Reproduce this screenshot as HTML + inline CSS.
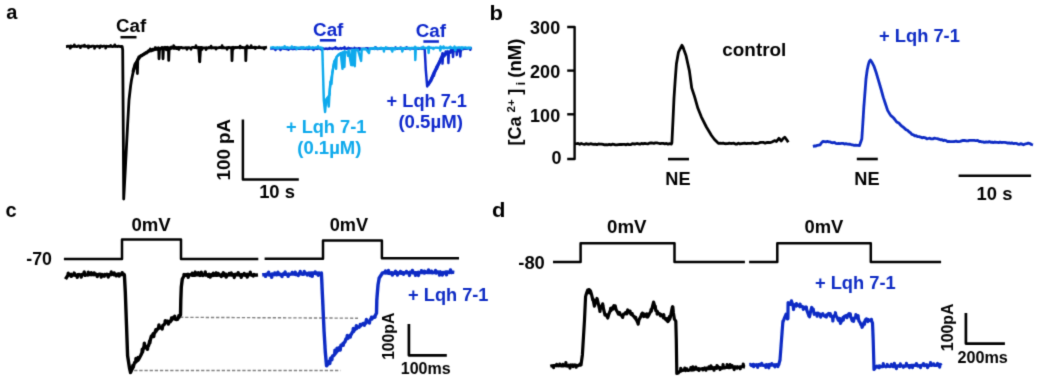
<!DOCTYPE html>
<html><head><meta charset="utf-8"><style>
html,body{margin:0;padding:0;background:#fff;}
body{width:1038px;height:382px;overflow:hidden;font-family:"Liberation Sans",sans-serif;}
svg{display:block;}
svg text{font-family:"Liberation Sans",sans-serif;font-weight:bold;}
</style></head><body>
<svg width="1038" height="382" viewBox="0 0 1038 382">
<defs><filter id="bl" x="0" y="0" width="100%" height="100%" filterUnits="userSpaceOnUse"><feConvolveMatrix order="3" kernelMatrix="0.0192 0.1001 0.0192 0.1001 0.5228 0.1001 0.0192 0.1001 0.0192" edgeMode="none"/></filter></defs>
<rect width="100%" height="100%" fill="#fff"/>
<g filter="url(#bl)">
<text x="6.21" y="19.4" font-size="20" fill="#000" >a</text>
<path d="M66 46.54 L67.01 46.48 L68.02 46.13 L69.03 46.3 L70.04 46.26 L70.29 48.2 L70.54 46.3 L71.05 45.97 L72.07 46.54 L73.08 46.25 L74.09 46.48 L74.34 44.88 L74.59 46.3 L75.1 46.11 L76.11 46.61 L77.12 46.58 L78.13 45.97 L79.14 45.97 L80.15 46.33 L80.4 47.63 L80.65 46.3 L81.16 46.25 L82.17 45.97 L83.19 46.11 L84.2 46.26 L84.45 45.17 L84.7 46.3 L85.21 46.1 L86.22 46.27 L87.23 46.15 L88.24 45.97 L88.49 47.88 L88.74 46.3 L89.25 46.08 L90.26 46.64 L91.27 46.55 L92.28 46.03 L93.29 46.18 L94.31 46.46 L94.56 48.41 L94.81 46.3 L95.32 46.53 L96.33 46.42 L97.34 46.16 L98.35 46.36 L99.36 46.57 L99.61 47.81 L99.86 46.3 L100.37 45.97 L101.38 46.12 L102.39 46.51 L103.4 46.24 L104.41 46.07 L105.43 46.33 L105.68 48.04 L105.93 46.3 L106.44 46.26 L107.45 46.31 L108.46 46.49 L109.47 46.31 L110.48 46.23 L110.73 45.46 L110.98 46.3 L111.49 46.44 L112.5 46.64 L113.51 46.37 L114.52 46.23 L114.77 44.8 L115.02 46.3 L115.53 46.49 L116.55 46.33 L117.56 46.55 L118.57 46.11 L119.58 46.31 L120.59 46.62 L121.6 46.35 L122.2 46.6 L122.7 50 L123.2 120 L123.7 199 L125 175 L126.2 152 L127.6 125 L129 100 L130.6 86 L131.5 80 L133.4 71 L134.2 68.5 L135.2 64.6 L136.5 62 L137.1 67 L137.4 73.5 L137.8 60 L138.8 56.8 L140 56.5 L142 55.2 L145.1 53.1 L145.1 53.13 L146.33 52.41 L147.57 51.97 L148.8 51.39 L150.03 50.53 L150.28 48.86 L150.53 50.83 L151.27 50.18 L152.5 50.25 L153.7 49.55 L154.9 49.47 L155.15 47.54 L155.4 49.23 L156.1 48.99 L157.26 49.02 L158.42 48.64 L158.7 48.65 L159 58.8 L159.5 48.65 L159.58 48.65 L159.83 49.37 L160.08 48.48 L160.74 48.4 L161.9 48.06 L162.7 47.83 L163 58.8 L163.5 47.83 L162.95 47.83 L164 48.38 L165.05 48.07 L166.1 48.2 L166.35 49.85 L166.6 48.05 L167.15 47.94 L168.2 48.19 L168.4 47.9 L168.7 60.4 L169.2 47.9 L169.25 47.9 L170.3 48.2 L171.34 48.15 L172.39 47.6 L173.43 47.61 L173.68 45.71 L173.93 47.87 L174.48 47.94 L175.52 47.71 L176.57 47.84 L177.61 47.74 L178.66 47.71 L178.91 49.43 L179.16 47.81 L179.7 47.93 L179.7 48.11 L180.7 47.49 L181.71 47.5 L182.71 48.02 L183.71 47.95 L184.72 47.9 L185.72 47.65 L186.72 47.85 L186.97 49.39 L187.22 47.78 L187.73 47.72 L188.73 47.69 L189.73 47.92 L190.74 48.11 L190.99 49.32 L191.24 47.76 L191.74 47.6 L192.74 47.43 L193.75 47.42 L194.75 47.72 L195.76 47.62 L196.01 45.7 L196.26 47.74 L196.76 47.78 L197.76 47.55 L198.77 47.4 L199.5 47.61 L199.8 61.8 L200.3 47.61 L199.77 47.61 L200.77 47.47 L201.78 47.73 L202.03 49.47 L202.28 47.72 L202.78 48 L203.78 47.92 L204.79 47.88 L205.79 47.99 L206.04 49.62 L206.29 47.71 L206.79 48.04 L207.8 48.03 L208.8 47.46 L209.8 47.87 L210.81 47.84 L211.06 46.15 L211.31 47.69 L211.81 47.99 L212.81 47.69 L213.82 47.91 L214.82 47.58 L215.82 47.94 L216.07 49.12 L216.32 47.68 L216.83 47.97 L217.83 47.83 L218.83 47.66 L219.84 47.47 L220.84 47.54 L221.84 47.79 L222.09 45.58 L222.34 47.66 L222.85 47.94 L223.85 47.51 L224.86 47.96 L225.86 47.79 L226.86 47.64 L227.11 49.35 L227.36 47.64 L227.87 47.5 L228.87 47.43 L229.87 47.64 L230.88 47.93 L231.7 47.71 L232 60.6 L232.5 47.71 L231.88 47.71 L232.88 47.32 L233.13 49.43 L233.38 47.62 L233.89 47.4 L234.89 47.78 L235.89 47.3 L236.9 47.71 L237.9 47.44 L238.9 47.41 L239.91 47.86 L240.16 46.06 L240.41 47.59 L240.91 47.41 L241.91 47.38 L242.92 47.85 L243.92 47.53 L244.92 47.73 L245.5 47.24 L245.8 60.6 L246.3 47.24 L245.93 47.24 L246.93 47.47 L247.18 45.83 L247.43 47.57 L247.93 47.88 L248.94 47.23 L249.94 47.72 L250.94 47.22 L251.19 45.62 L251.44 47.56 L251.95 47.33 L252.95 47.68 L253.96 47.46 L254.96 47.22 L255.21 48.55 L255.46 47.54 L255.96 47.43 L256.97 47.62 L257.97 47.7 L258.97 47.26 L259.22 46.68 L259.47 47.53 L259.98 47.71 L260.98 47.69 L261.98 47.8 L262.99 47.69 L263.99 47.76 L264.24 48.97 L264.49 47.51 L264.99 47.62 L266 47.37 L267 47.22" fill="none" stroke="#000" stroke-width="2.8" stroke-linejoin="round" stroke-linecap="butt" />
<path d="M133 71.94 L134.1 67.87 L135.2 64.07 L136.5 62.71 L137.8 59.62 L138.9 58.3 L140 56.58 L141 55.66 L142 55.57 L143.03 54.62 L144.07 54.25 L145.1 53.36 L146.33 53.04 L147.57 51.8 L148.8 50.75 L150.03 50.27 L151.27 50.72 L152.5 49.37 L153.7 49.81 L154.9 49.43 L156.1 48.2 L157.26 49.21 L158.42 47.87 L159.58 49.07 L160.74 48.89 L161.9 47.75 L162.95 48.52 L164 48.5 L165.05 47.49 L166.1 48.32 L167.15 47.41 L168.2 48.64 L169.25 48.24 L170.3 48.67 L171.34 47.17 L172.39 47.59 L173.43 48.06 L174.48 48.03 L175.52 47.34 L176.57 48.45 L177.61 48.38 L178.66 47.49 L179.7 47.63" fill="none" stroke="#000" stroke-width="3.2" stroke-linejoin="round" stroke-linecap="butt" />
<path d="M198 48 L199 61.5 L200 61.8 L201 48" fill="none" stroke="#000" stroke-width="1.5" stroke-linejoin="round" stroke-linecap="butt" />
<line x1="120.5" y1="37.2" x2="136.5" y2="37.2" stroke="#000" stroke-width="2.5" />
<text x="116.08" y="32.4" font-size="18.7" fill="#000" >Caf</text>
<path d="M270.2 48.42 L271.2 48.63 L272.2 48.46 L273.2 48.39 L274.21 48.63 L275.21 48.99 L275.46 49.96 L275.71 48.69 L276.21 48.72 L277.21 48.53 L278.21 48.46 L279.21 48.41 L280.21 48.49 L280.46 50.02 L280.71 48.69 L281.21 48.9 L282.22 48.47 L283.22 48.55 L284.22 48.77 L285.22 48.84 L286.22 48.93 L287.22 48.94 L288.22 48.39 L288.47 49.85 L288.72 48.68 L289.22 48.45 L290.23 48.66 L291.23 48.39 L292.23 48.98 L293.23 48.93 L294.23 48.7 L294.48 47.26 L294.73 48.67 L295.23 48.94 L296.23 48.91 L297.24 48.67 L298.24 48.6 L299.24 48.73 L300.24 48.61 L300.49 47.86 L300.74 48.66 L301.24 48.34 L302.24 48.34 L303.24 48.75 L304.24 48.5 L305.25 48.68 L306.25 48.63 L307.25 48.54 L308.25 49 L308.5 47.74 L308.75 48.65 L309.25 48.74 L310.25 48.49 L311.25 48.55 L312.25 48.82 L313.26 48.52 L313.51 50.05 L313.76 48.64 L314.26 48.34 L315.26 48.45 L316.26 48.83 L317.26 48.72 L317.51 47.81 L317.76 48.64 L318.26 48.61 L319.26 48.32 L320.26 48.77 L321.27 48.91 L321.52 49.87 L321.77 48.63 L322.27 48.3 L323.27 48.48 L324.27 48.96 L325.27 48.82 L326.27 48.56 L327.27 48.94 L328.28 48.71 L329.28 48.85 L329.53 47.93 L329.78 48.62 L330.28 48.37 L331.28 48.54 L332.28 48.94 L333.28 48.5 L334.28 48.27 L335.28 48.3 L335.53 47.33 L335.78 48.62 L336.29 48.47 L337.29 48.33 L338.29 48.95 L339.29 48.56 L340.29 48.4 L340.54 48.05 L340.79 48.61 L341.29 48.73 L342.29 48.36 L343.29 48.28 L344.3 48.6 L344.55 47.11 L344.8 48.6 L345.3 48.62 L346.3 48.79 L347.3 48.54 L348.3 48.94 L348.55 47.86 L348.8 48.6 L349.3 48.27 L350.3 48.54 L351.31 48.42 L352.31 48.87 L353.31 48.82 L354.31 48.59 L354.56 47.84 L354.81 48.59 L355.31 48.39 L356.31 48.4 L357.31 48.85 L358.31 48.33 L359.32 48.27 L359.57 49.65 L359.82 48.58 L360.32 48.52 L361.32 48.86 L362.32 48.69 L363.32 48.78 L364.32 48.75 L365.32 48.57 L366.32 48.29 L367.33 48.37 L367.58 49.97 L367.83 48.57 L368.33 48.46 L369.33 48.68 L370.33 48.78 L371.33 48.67 L372.33 48.79 L373.33 48.59 L374.34 48.67 L375.34 48.69 L375.59 47.14 L375.84 48.56 L376.34 48.26 L377.34 48.89 L378.34 48.88 L379.34 48.68 L380.34 48.24 L381.34 48.84 L382.35 48.29 L383.35 48.88 L383.6 49.11 L383.85 48.55 L384.35 48.65 L385.35 48.6 L386.35 48.72 L387.35 48.85 L387.6 48.04 L387.85 48.55 L388.35 48.21 L389.35 48.81 L390.36 48.28 L391.36 48.76 L392.36 48.74 L393.36 48.8 L394.36 48.57 L395.36 48.8 L395.61 47.37 L395.86 48.54 L396.36 48.81 L397.36 48.73 L398.37 48.51 L399.37 48.55 L400.37 48.2 L400.62 47.44 L400.87 48.53 L401.37 48.79 L402.37 48.6 L403.37 48.27 L404.37 48.43 L405.38 48.71 L406.38 48.54 L406.63 47.19 L406.88 48.52 L407.38 48.23 L408.38 48.55 L409.38 48.44 L410.38 48.72 L411.38 48.38 L412.38 48.33 L413.39 48.5 L414.39 48.84 L414.64 47.9 L414.89 48.51 L415.39 48.78 L416.39 48.52 L417.39 48.46 L418.39 48.76 L419.39 48.7 L420.39 48.2 L421.4 48.77 L421.65 47.7 L421.9 48.5 L422.4 48.45 L423.4 48.71 L424.4 48.27 L424.7 49 L425.8 70 L427.2 86.5 L428.5 84 L428.5 83.46 L429.8 81.5 L431.1 79.56 L431.35 78.34 L431.6 79.3 L432.4 77.06 L433.7 73.61 L433.95 75.83 L434.2 74.1 L435 71.55 L436.35 68.78 L436.6 66.66 L436.85 68.85 L437.7 65.53 L439 63.57 L439.25 61.87 L439.5 62.95 L440.3 59.51 L442.2 55.04 L442.5 63.6 L443 55.04 L442.2 55.04 L442.45 53.3 L442.7 54.4 L443.3 53.83 L444.4 53.77 L445.5 52.97 L445.75 51.41 L446 52.5 L446.56 52.9 L447.62 51.28 L448.1 51.99 L448.4 62.9 L448.9 51.99 L448.68 51.99 L448.93 53.37 L449.18 51.66 L449.74 51.8 L450.8 51.42 L451.05 49.4 L451.3 51.1 L451.88 50.24 L452.7 50.44 L453 57 L453.5 50.44 L452.97 50.44 L453.22 49.31 L453.47 50.67 L454.05 50.92 L455.13 50.88 L456.22 50.68 L456.47 51.92 L456.5 50.02 L456.8 55 L457.3 50.02 L456.72 50.02 L457.3 49.35 L458.44 49.73 L458.69 51.3 L458.94 49.56 L459.58 48.89 L460 49.67 L460.3 56.4 L460.8 49.67 L460.72 49.67 L460.97 50.85 L461.22 49.08 L461.86 48.7 L463 49.17 L463 48.77 L464 48.77 L465 48.84 L466 48.67 L467 48.76 L468 48.1 L469 48.38 L470 48.68 L470.25 49.77 L470.5 48.37 L471 48.31 L472 48.12" fill="none" stroke="#0b28cc" stroke-width="2.5" stroke-linejoin="round" stroke-linecap="butt" />
<path d="M427.8 85 L430.8 80.6 L434.3 72.4 L437.9 65.3 L441.4 58.3 L446.1 53.6 L453.2 51.2" fill="none" stroke="#0b28cc" stroke-width="3.4" stroke-linejoin="round" stroke-linecap="butt" />
<path d="M270.2 47.83 L271.21 47.59 L272.23 47.43 L273.24 47.25 L274.25 47.71 L275.27 47.58 L276.28 47.78 L277.3 47.51 L277.55 48.37 L277.8 47.6 L278.31 47.76 L279.32 47.54 L280.34 47.63 L281.35 47.73 L282.36 47.39 L283.38 47.64 L284.39 47.81 L284.64 46.3 L284.89 47.6 L285.41 47.84 L286.42 47.48 L287.43 47.32 L288.45 47.81 L289.46 47.81 L290.47 47.56 L291.49 47.32 L291.74 46.47 L291.99 47.6 L292.5 47.92 L293.52 47.66 L294.53 47.39 L295.54 47.71 L296.56 47.5 L296.81 49.01 L297.06 47.6 L297.57 47.7 L298.58 47.74 L299.6 47.81 L300.61 47.93 L301.63 47.27 L302.64 47.5 L302.89 48.4 L303.14 47.6 L303.65 47.31 L304.67 47.87 L305.68 47.62 L306.69 47.33 L307.71 47.71 L308.72 47.47 L308.97 46.62 L309.22 47.6 L309.74 47.4 L310.75 47.86 L311.76 47.74 L312.78 47.26 L313.03 48.12 L313.28 47.6 L313.79 47.88 L314.8 47.68 L315.82 47.46 L316.83 47.51 L317.85 47.52 L318.1 46.1 L318.35 47.6 L318.86 47.55 L319.87 47.77 L320.89 47.53 L321.9 47.94 L322.3 48 L323.8 100 L325.1 112 L326 100 L327.5 98.2 L328.8 106.5 L329.7 89 L330.6 81.7 L331.5 84 L332.4 72.5 L333.3 67 L334.3 61.5 L335.2 60 L336.1 68.9 L336.6 57 L338 55.1 L340.7 53.3 L342.5 68.9 L343.2 53 L344.4 67 L345 51.5 L347.5 52.5 L348 55.7 L348.6 50.5 L351.2 65.1 L351.8 50 L352.6 65.2 L353.2 50 L354.8 66.2 L355.4 49.6 L358 50 L361.1 60.9 L361.7 49.2 L366 49 L369 53.1 L369.6 48.6 L369.6 48.92 L370.61 48.33 L371.62 48.72 L372.63 48.28 L373.64 48.38 L374.64 48.9 L374.89 47.41 L375.14 48.55 L375.65 48.51 L376.66 48.53 L377.67 48.31 L378.68 48.74 L379.69 48.21 L380.7 48.31 L380.95 47.72 L381.2 48.49 L381.71 48.76 L382.72 48.39 L383.6 48.19 L383.9 51.5 L384.4 48.19 L383.72 48.19 L384.73 48.28 L385.74 48.79 L385.99 47.32 L386.24 48.44 L386.75 48.54 L387.76 48.31 L388.77 48.55 L389.78 48.4 L390.79 48.5 L391.04 49.47 L391.29 48.39 L391.8 48.08 L392 48.68 L392.3 51.5 L392.8 48.68 L392.8 48.68 L393.81 48.35 L394.82 48.14 L395.07 49.43 L395.32 48.35 L395.83 48.61 L396.84 48.18 L397.85 48.22 L398.86 48.58 L399.87 48.05 L400.88 48.48 L401.89 48 L402 49.49 L402.3 51.5 L402.8 49.49 L402.14 49.49 L402.39 48.28 L402.89 48.51 L403.9 48.27 L404.91 48.04 L405.92 48 L406.93 48.25 L407.94 48.23 L408.95 47.91 L409.96 48.49 L410.21 49.41 L410.46 48.2 L410.97 48.01 L411.97 47.84 L412.98 48.06 L413.99 48 L415 48.1 L415.3 60 L415.8 48.1 L415 48.1 L415.25 46.82 L415.5 48.15 L416.01 47.92 L417.02 48.06 L418.03 47.89 L419.04 48.23 L420.05 48.44 L421.05 47.89 L422.06 48.27 L423.07 47.94 L423.32 46.81 L423.57 48.08 L424.08 47.83 L425.09 48.01 L426.1 47.86 L427.11 47.97 L428.12 47.99 L428.3 46.94 L428.6 53 L429.1 46.94 L428.37 46.94 L428.62 48.03 L429.13 47.73 L430.13 47.72 L431.14 47.72 L432.15 48 L433.16 47.88 L433.41 48.98 L433.66 47.98 L434.17 48.3 L435.18 47.65 L436.19 47.61 L437.2 47.68 L438.21 47.85 L439.21 47.97 L440 48.08 L440.3 50.5 L440.8 48.08 L440.22 48.08 L440.47 46.44 L440.72 47.91 L441.23 48.13 L442.24 47.68 L443.25 48.14 L443.5 46.41 L443.75 47.88 L444.26 48.21 L445.27 47.91 L446.28 47.62 L447.29 48.17 L448.3 47.79 L449.3 47.53 L450.31 47.88 L450.56 46.83 L450.81 47.81 L451.32 47.53 L452.33 47.84 L453.34 47.75 L454.35 47.51 L454.6 46.54 L454.85 47.77 L455 47.74 L455.3 50.3 L455.8 47.74 L455.36 47.74 L456.37 47.67 L457.38 47.64 L458.38 47.54 L459.39 47.51 L460.4 47.67 L461.41 47.42 L461.66 48.91 L461.91 47.7 L462.42 47.35 L463.43 47.58 L464.44 47.62 L465.45 47.37 L466.46 47.98 L467.46 47.82 L468.47 47.63 L468.72 48.33 L468.97 47.63 L469.48 47.64 L470.49 47.78 L471.5 47.7" fill="none" stroke="#08a9ec" stroke-width="2.4" stroke-linejoin="round" stroke-linecap="butt" />
<path d="M325.6 106 L326.5 99 L328 97 L329.5 95 L330.6 82 L332.4 72.5 L334.3 61.5 L336.6 57 L340.7 53.3 L345 51.2" fill="none" stroke="#08a9ec" stroke-width="2.2" stroke-linejoin="round" stroke-linecap="butt" />
<line x1="319.9" y1="40.3" x2="336" y2="40.3" stroke="#0b28cc" stroke-width="2.6" />
<text x="313.1" y="35.8" font-size="18.8" fill="#0b28cc" >Caf</text>
<line x1="423.4" y1="41.5" x2="438.9" y2="41.5" stroke="#0b28cc" stroke-width="2.6" />
<text x="415.65" y="36.8" font-size="18.8" fill="#0b28cc" >Caf</text>
<text x="285.97" y="132.8" font-size="18.2" fill="#08a9ec" >+ Lqh 7-1</text>
<text x="297.25" y="153.9" font-size="18.5" fill="#08a9ec" >(0.1µM)</text>
<text x="386.62" y="106.6" font-size="18.2" fill="#0b28cc" >+ Lqh 7-1</text>
<text x="398.42" y="127.8" font-size="18.6" fill="#0b28cc" >(0.5µM)</text>
<path d="M242.9 119.5 L242.9 179.6 L298.8 179.6" fill="none" stroke="#000" stroke-width="2.5" stroke-linejoin="round" stroke-linecap="butt" stroke-linejoin="miter"/>
<text transform="translate(229.5 180.47) rotate(-90)" x="0" y="0" font-size="18.8" fill="#000">100 pA</text>
<text x="259.14" y="197.6" font-size="18.4" fill="#000" >10 s</text>
<text transform="translate(489.45 19.6) scale(1.1 1)" font-size="20" fill="#000" >b</text>
<path d="M567.2 27 L574.6 27 L574.6 159 L567.2 159" fill="none" stroke="#000" stroke-width="2.4" stroke-linejoin="round" stroke-linecap="butt" stroke-linejoin="miter"/>
<line x1="567.2" y1="70.6" x2="574.6" y2="70.6" stroke="#000" stroke-width="2.4" />
<line x1="567.2" y1="114.3" x2="574.6" y2="114.3" stroke="#000" stroke-width="2.4" />
<text x="530.11" y="34.2" font-size="18.0" fill="#000" >300</text>
<text x="530.11" y="77.9" font-size="18.0" fill="#000" >200</text>
<text x="530.11" y="121.6" font-size="18.0" fill="#000" >100</text>
<text x="551.46" y="163.6" font-size="18.0" fill="#000" >0</text>
<text transform="translate(521.4 145.61) rotate(-90)" font-size="18" fill="#000">[Ca</text>
<text transform="translate(514.8 112.5) rotate(-90)" font-size="11.5" fill="#000">2+</text>
<text transform="translate(521.4 94.72) rotate(-90)" font-size="18" fill="#000">]</text>
<text transform="translate(524.8 85.24) rotate(-90)" font-size="12" fill="#000">i</text>
<text transform="translate(521.4 77.72) rotate(-90)" font-size="18.5" fill="#000">(nM)</text>
<path d="M575 143.79 L576.56 143.71 L578.12 143.51 L579.69 144.28 L581.25 143.46 L582.81 143.99 L584.38 144.42 L585.94 143.64 L587.5 144.15 L589.06 144.25 L590.62 143.72 L592.19 144.09 L593.75 144.45 L595.31 144.24 L596.88 144.55 L598.44 144.02 L600 144.14 L601.54 144.04 L603.08 144.47 L604.62 144.92 L606.15 144.61 L607.69 144.83 L609.23 144.47 L610.77 144.86 L612.31 144.25 L613.85 144.47 L615.38 144.88 L616.92 144.96 L618.46 144.69 L620 144.39 L621.54 144.49 L623.08 144.36 L624.62 144.35 L626.15 144.8 L627.69 144.11 L629.23 144.72 L630.77 144.64 L632.31 143.74 L633.85 143.99 L635.38 144.02 L636.92 143.48 L638.46 143.8 L640 144.21 L641.54 143.37 L643.08 143.8 L644.62 143.28 L646.15 143.69 L647.69 143.96 L649.23 143.23 L650.77 142.99 L652.31 143.01 L653.85 143.42 L655.38 142.86 L656.92 142.88 L658.46 143.24 L660 143.62 L661.6 143.28 L663.2 143.42 L664.8 143.82 L666.4 143.43 L668 144.08 L669.7 143.67 L671.4 144.03 L671.9 142.7 L673 120 L674 98 L675.2 80 L676.4 64 L678.5 52.1 L680.2 48.7 L681.9 45.3 L683 47 L684 50 L686 55.5 L689.4 70.9 L691.7 87.9 L694.5 96.4 L697.9 108.3 L701.3 116.8 L706.4 127 L711.5 135.5 L714.5 139.5 L717.6 142.6 L718.6 143.32 L720.13 143.25 L721.66 143.42 L723.19 143.07 L724.71 143.7 L726.24 143.73 L727.77 143.58 L729.3 143.11 L730.83 143.49 L732.36 143.32 L733.89 143.26 L735.41 143.99 L736.94 144.05 L738.47 143.12 L740 143.96 L741.57 143.65 L743.14 143.37 L744.71 143.21 L746.29 143.55 L747.86 143.27 L749.43 143.44 L751 143.36 L752.57 142.78 L754.14 143.35 L755.71 143.51 L757.29 143.44 L758.86 143.03 L760.43 142.4 L762 142.3 L763.6 142.39 L765.2 143.16 L766.8 142.48 L768.4 142.51 L770 142.72 L772 142 L774.5 140.6 L776.5 141.5 L778.9 138.3 L781.3 141 L783.2 138.5 L784.7 137.2 L786.5 139.5 L788.3 142.3" fill="none" stroke="#000" stroke-width="2.8" stroke-linejoin="round" stroke-linecap="butt" />
<text x="722.33" y="55.6" font-size="18.9" fill="#000" >control</text>
<line x1="668" y1="159.1" x2="689" y2="159.1" stroke="#000" stroke-width="2.6" />
<text x="665.36" y="184.7" font-size="18.2" fill="#000" >NE</text>
<path d="M812.9 146.29 L814.45 146 L816 145.98 L817.33 145.34 L818.67 145.14 L820 144.98 L821.5 142.72 L823 141.41 L824.5 141.62 L826 141.86 L827.4 141.43 L828.8 141.82 L830.2 141.83 L831.6 142.68 L833 142.77 L834.4 142.37 L835.8 143.39 L837.2 143.56 L838.6 143.46 L840 143.6 L841.48 143.35 L842.96 143.38 L844.44 144.01 L845.92 143.74 L847.4 144.02 L848.8 144.24 L850.2 144.23 L851.6 144.79 L853 144.95 L854.3 145.41 L855.6 145.22 L856.9 145.43 L858.2 145.4 L859.5 145.54 L861.8 139 L862.8 124 L863.8 107.5 L865 92 L866 78.8 L867.2 70 L868.4 64.4 L869.4 61.3 L870.4 60 L872 62.3 L873.8 65.8 L876 72 L878.4 80.2 L881 89 L883.3 97.4 L885.5 104 L887.6 110.4 L890.3 114.9 L890.3 114.89 L891.85 116.39 L893.4 117.75 L894.85 119.48 L896.3 121.56 L897.65 122.54 L899 123.1 L900.4 124.88 L901.8 126.07 L903.2 127.19 L904.6 128.35 L906 129.65 L907.47 130.35 L908.93 131.78 L910.4 132.7 L911.95 134.47 L913.5 134.8 L914.83 135.89 L916.17 135.62 L917.5 136.57 L919 136.62 L920.5 137.05 L922 137.81 L923.63 137.4 L925.27 137.77 L926.9 138.87 L928.35 138.51 L929.8 138.13 L931.25 138.94 L932.7 138.9 L934.15 138.15 L935.6 138.43 L937.2 138.55 L938.8 139.08 L940.4 139.73 L942 139.7 L943.38 140.5 L944.76 140.24 L946.14 140.66 L947.52 141.56 L948.9 141.51 L950.32 141.53 L951.74 141.69 L953.16 141.58 L954.58 141.5 L956 141.18 L957.4 141.58 L958.8 141.58 L960.2 141.37 L961.6 140.87 L963 140.37 L964.67 140.48 L966.33 140.87 L968 140.96 L969.36 140.33 L970.72 140.32 L972.08 140.32 L973.44 140.33 L974.8 140.48 L976.2 140.53 L977.6 140.44 L979 141.49 L980.33 141.44 L981.65 141.82 L982.97 141.85 L984.3 142.33 L986.15 142 L988 142.04 L989.37 141.64 L990.73 142.24 L992.1 142.11 L993.42 142.59 L994.73 142.02 L996.05 142.25 L997.37 142.33 L998.68 142.61 L1000 142.1 L1001.56 142.5 L1003.12 142.32 L1004.68 142.42 L1006.24 142.64 L1007.8 143.11 L1009.24 142.84 L1010.68 143.43 L1012.12 142.88 L1013.56 143.72 L1015 143.38 L1016.42 143.39 L1017.83 144.06 L1019.25 144.37 L1020.67 143.72 L1022.08 144.12 L1023.5 144.74 L1025.1 144.02 L1026.7 143.6 L1028.3 143.06 L1029.87 143.52 L1031.43 144.47 L1033 144.93" fill="none" stroke="#0a2ac4" stroke-width="2.8" stroke-linejoin="round" stroke-linecap="butt" />
<text x="879.1" y="41.9" font-size="18.3" fill="#0a2ac4" >+ Lqh 7-1</text>
<line x1="856.8" y1="159" x2="877.8" y2="159" stroke="#000" stroke-width="2.6" />
<text x="854.31" y="184.9" font-size="18.2" fill="#000" >NE</text>
<line x1="958.6" y1="175.8" x2="1031.1" y2="175.8" stroke="#000" stroke-width="2.6" />
<text x="976.59" y="199.6" font-size="18.4" fill="#000" >10 s</text>
<text x="5.52" y="217" font-size="20" fill="#000" >c</text>
<text x="26.25" y="265.4" font-size="17.8" fill="#000" >-70</text>
<path d="M63.9 259.1 L122 259.1 L122 239.6 L181 239.6 L181 259.1 L258.3 259.1" fill="none" stroke="#000" stroke-width="2.5" stroke-linejoin="round" stroke-linecap="butt" stroke-linejoin="miter"/>
<path d="M264.6 258.7 L323 258.7 L323 240.6 L381.9 240.6 L381.9 258.3 L459 258.3" fill="none" stroke="#000" stroke-width="2.5" stroke-linejoin="round" stroke-linecap="butt" stroke-linejoin="miter"/>
<text x="131.4" y="231" font-size="18.6" fill="#000" >0mV</text>
<text x="329.73" y="230.5" font-size="18.2" fill="#000" >0mV</text>
<line x1="180" y1="317.3" x2="358" y2="318.2" stroke="#808080" stroke-width="1.4" stroke-dasharray="3.3 1.85"/>
<line x1="129" y1="370.5" x2="340.5" y2="370.5" stroke="#808080" stroke-width="1.4" stroke-dasharray="3.3 1.85"/>
<path d="M65.5 279.22 L66.75 277.12 L68 275.22 L68.25 273.18 L68.5 274.8 L69 274.46 L70 275.07 L71 274.34 L71.25 276.37 L71.5 274.78 L72 274.7 L73 275.18 L74 274.9 L74.25 273.07 L74.5 274.77 L75 275.21 L76 275.13 L77 275.12 L77.25 277.29 L77.5 274.75 L78 275.1 L79 274.45 L80 275.16 L81 274.71 L81.25 276.95 L81.5 274.73 L82 274.56 L83 274.64 L84 274.49 L84.25 272.04 L84.5 274.71 L85 275.29 L86 274.93 L87 274.76 L88 274.99 L88.25 272.27 L88.5 274.69 L89 274.3 L90 274.33 L91 274.7 L91.25 272.65 L91.5 274.68 L92 274.55 L93 274.22 L94 274.65 L94.25 273.04 L94.5 274.66 L95 274.5 L96 274.14 L97 274.83 L97.25 276.55 L97.5 274.64 L98 275.16 L99 274.09 L100 274.2 L101 274.99 L101.25 276.97 L101.5 274.62 L102 274.51 L103 275.05 L104 275.07 L104.25 276.17 L104.5 274.61 L105 274.45 L106 274.86 L107 274.16 L108 275.15 L108.25 277.09 L108.5 274.59 L109 274.72 L110 274.67 L111 274.68 L111.25 272.06 L111.5 274.57 L112 274.32 L113 274.16 L114 274.77 L114.25 272.95 L114.5 274.55 L115 274.72 L116 274.61 L116.25 275.81 L116.5 274.54 L117 274.35 L118 274.04 L119 273.93 L119.25 275.95 L119.5 274.53 L120 274.24 L121 274.63 L122 274 L122.25 272.65 L122.5 274.51 L123 273.91 L124 274.3 L124.4 275 L125.3 292 L126.5 325 L127.6 355.8 L129.5 368 L130.5 372.3 L130.5 372.66 L131.55 370.2 L132.6 368.34 L132.85 365.46 L133.1 367.55 L133.65 365.46 L134.7 362.45 L135.74 362.09 L135.99 358.47 L136.24 361.76 L136.78 360.22 L137.82 360.4 L138.07 357.58 L138.32 359.68 L138.86 358.88 L139.9 356.97 L140.95 355.04 L142 352.6 L142.25 349.3 L142.5 352.3 L143.05 349.36 L144.1 346.25 L144.35 343.25 L144.6 347 L145.15 347.63 L146.2 346.39 L147.25 346.44 L147.5 349.33 L147.75 346.25 L148.3 346.16 L149.33 343.11 L149.58 341.15 L149.83 342.87 L150.37 339.76 L151.4 336.05 L152.45 335.21 L153.5 333.49 L153.75 336.65 L154 334 L154.55 333.27 L155.6 330.66 L155.85 329.84 L156.1 331.4 L156.63 329.57 L157.67 329.18 L158.7 327.27 L158.95 324.92 L159.2 328 L159.77 327.69 L160.83 327.51 L161.9 327.19 L162.15 329.02 L162.4 327.3 L162.93 325.23 L163.97 324.76 L165 323.29 L165.25 320.67 L165.5 322.5 L166.06 322.33 L167.12 321.03 L168.18 321.97 L168.43 324.07 L168.68 321.6 L169.24 321.42 L170.3 321.79 L171.33 319.51 L171.58 318 L171.83 319.93 L172.37 318.81 L173.4 317.36 L174.43 318.33 L174.68 316.31 L174.93 318.53 L175.47 319.42 L176.5 319.61 L177.55 319.44 L178.6 317.04 L178.85 315.72 L179.1 317.3 L180.5 315.16 L180.8 300 L181.3 287 L182.3 279 L184 276 L184 274.41 L185 275.28 L186 274.58 L187 275.57 L188 274.4 L188.25 277.4 L188.5 274.98 L189 275.57 L190 274.65 L191 274.77 L192 275.21 L192.25 273.28 L192.5 274.96 L193 275.38 L194 275.39 L195 275.3 L195.25 272.07 L195.5 274.94 L196 274.61 L197 274.87 L198 274.83 L198.25 272.71 L198.5 274.92 L199 275 L200 275.43 L201 275.08 L201.25 272.15 L201.5 274.91 L202 274.89 L203 275.43 L204 274.31 L205 274.45 L205.25 271.99 L205.5 274.88 L206 275.14 L207 274.62 L208 274.86 L208.25 276.25 L208.5 274.87 L209 274.32 L210 274.82 L210.25 277.05 L210.5 274.86 L211 274.85 L212 274.46 L213 275.38 L213.25 273.22 L213.5 274.84 L214 275.22 L215 274.61 L216 275.31 L216.25 272.83 L216.5 274.82 L217 275.31 L218 275.17 L218.25 273.4 L218.5 274.81 L219 274.66 L220 275.21 L221 275.31 L221.25 276.52 L221.5 274.8 L222 275.27 L223 275.33 L223.25 272.7 L223.5 274.8 L224 275.37 L225 274.25 L226 274.27 L226.25 277.03 L226.5 274.8 L227 275.13 L228 274.91 L229 275.03 L229.25 273.45 L229.5 274.8 L230 274.6 L231 274.98 L231.25 272.97 L231.5 274.8 L232 275.05 L233 274.91 L234 274.57 L234.25 277.44 L234.5 274.8 L235 275.27 L236 274.22 L237 275 L238 274.62 L238.25 272.67 L238.5 274.8 L239 274.5 L240 275.38 L241 274.6 L241.25 277.23 L241.5 274.8 L242 274.58 L243 274.93 L244 275.04 L244.25 273.49 L244.5 274.8 L245 275.23 L246 275.07 L247 274.33 L247.25 277.04 L247.5 274.8 L248 275.27 L249 274.35 L250 274.32 L250.25 272.27 L250.5 274.8 L251 274.78 L252 275.29 L253 274.67 L253.25 276.01 L253.5 274.8 L254 274.39 L255 274.99 L256 275.21 L257 274.99 L258 274.89" fill="none" stroke="#000" stroke-width="3.4" stroke-linejoin="round" stroke-linecap="butt" />
<path d="M262.2 274.78 L263.23 274.68 L264.26 274.69 L265.29 274.62 L265.54 276.4 L265.79 274.73 L266.32 274.12 L267.35 274.45 L268.38 274.47 L268.63 272.13 L268.88 274.67 L269.41 274.99 L270.44 275.17 L271.47 274.3 L271.72 277.25 L271.97 274.6 L272.5 274.01 L273.53 274.5 L274.56 274.69 L274.81 272.93 L275.06 274.53 L275.59 274.22 L276.61 274.83 L277.64 274.28 L277.89 272.11 L278.14 274.47 L278.67 274.2 L279.7 273.88 L280.73 274.97 L281.76 274.78 L282.01 276.52 L282.26 274.38 L282.79 273.94 L283.82 274.1 L284.85 274.26 L285.1 271.85 L285.35 274.31 L285.88 273.7 L286.91 274.68 L287.94 274.23 L288.19 276.3 L288.44 274.24 L288.97 274.17 L290 274.34 L291 274.17 L292 273.56 L292.25 272.52 L292.5 274.14 L293 273.95 L294 274.12 L295 274.23 L295.25 272.26 L295.5 274.04 L296 274.55 L297 274.31 L298 274.13 L298.25 275.55 L298.5 273.94 L299 273.42 L300 273.42 L300.25 271.55 L300.5 273.88 L301 273.38 L302 274.04 L303 274.31 L304 274.07 L304.25 271.4 L304.5 273.75 L305 273.33 L306 273.1 L307 273.68 L307.25 275.04 L307.5 273.65 L308 273.49 L309 273.03 L310 273.51 L310.25 275.58 L310.5 273.55 L311 272.96 L312 273.13 L312.25 276.36 L312.5 273.49 L313 272.98 L314 273.08 L315 273.29 L315.25 271.98 L315.5 273.39 L316 273.77 L317 273.01 L318 273.76 L318.25 275.28 L318.5 273.3 L319 272.89 L320 273.43 L321 273.59 L321.4 273 L322.6 299 L324 330 L325.3 352 L326.5 365.3 L326.5 365.85 L327.52 364.61 L328.53 361.89 L329.55 361.23 L329.8 363.57 L330.05 360.75 L330.57 358.38 L331.58 357.51 L331.83 359.72 L332.08 357.72 L332.6 355.87 L333.66 355.54 L334.71 354.43 L334.96 350.13 L335.21 353.63 L335.77 352.91 L336.83 351.73 L337.08 348.15 L337.33 351.06 L337.89 350.59 L338.94 347.96 L340 347.27 L340.25 349.98 L340.5 347.2 L341 345.2 L342 345.49 L343 343.4 L343.25 345.23 L343.5 343.45 L344 342.76 L345 341.71 L346 338.83 L347.01 338.3 L347.26 335.53 L347.51 338.53 L348.02 338.19 L349.03 335.97 L350.04 335.53 L350.29 337.01 L350.54 335.03 L351.06 334.69 L352.07 332.75 L353.08 331.28 L353.33 328.46 L353.58 331.53 L354.09 330.55 L355.1 329.3 L356.1 328.63 L356.35 325.72 L356.6 328.53 L357.1 327.54 L358.1 326.9 L359.1 327.27 L360.1 326.01 L360.35 324.35 L360.6 325.87 L361.1 324.93 L362.1 324.47 L363.1 323.46 L364.1 323.44 L364.35 325.32 L364.6 323.2 L365.12 323.58 L366.13 322.94 L366.38 319.57 L366.63 322.2 L367.15 321.53 L368.17 321.62 L369.18 321.53 L369.43 322.98 L369.68 320.7 L370.2 319.75 L371.32 318.42 L371.57 317.13 L371.82 319.05 L372.45 317.97 L373.57 317.3 L374.7 316.36 L374.95 317.2 L375.2 315.6 L376.5 313.27 L376.8 300 L378 285 L379.2 278 L382.2 273.5 L382.2 273.19 L383.2 272.79 L384.2 272.62 L385.2 272.96 L385.45 270.91 L385.7 272.97 L386.21 272.68 L387.21 272.66 L388.21 273.17 L388.46 270.53 L388.71 272.94 L389.21 273.37 L390.21 273.46 L391.21 272.59 L392.21 272.59 L392.46 275.14 L392.71 272.9 L393.22 273.11 L394.22 273.33 L395.22 273.28 L395.47 271.14 L395.72 272.87 L396.22 273.43 L397.22 272.52 L397.47 275.02 L397.72 272.85 L398.22 272.88 L399.22 273.23 L400.23 272.94 L400.48 271.42 L400.73 272.82 L401.23 273.32 L402.23 272.38 L403.23 273.02 L403.48 274.28 L403.73 272.8 L404.23 273.01 L405.23 272.7 L406.23 272.66 L406.48 271.38 L406.73 272.77 L407.23 272.86 L408.24 272.79 L409.24 272.55 L409.49 275.42 L409.74 272.74 L410.24 272.23 L411.24 272.3 L412.24 272.29 L412.49 270.34 L412.74 272.71 L413.24 272.34 L414.24 273.18 L415.25 272.83 L415.5 275.35 L415.75 272.68 L416.25 272.7 L417.25 273.24 L418.25 272.21 L418.5 275.44 L418.75 272.65 L419.25 273.02 L420.25 272.25 L421.25 272.52 L421.5 270.71 L421.75 272.62 L422.26 272.18 L423.26 272.41 L424.26 273.01 L424.51 271.16 L424.76 272.59 L425.26 272.63 L426.26 271.99 L427.26 272.65 L428.26 272.13 L428.51 270.02 L428.76 272.55 L429.27 272.45 L430.27 272.55 L431.27 272.59 L431.52 271.14 L431.77 272.52 L432.27 272.84 L433.27 272.41 L434.27 272.38 L435.27 272.62 L435.52 270.54 L435.77 272.48 L436.27 272.96 L437.28 272.05 L438.28 272.06 L439.28 272.79 L439.53 274.96 L439.78 272.45 L440.28 271.91 L441.28 272.82 L442.28 272.93 L442.53 274.94 L442.78 272.42 L443.28 272.44 L444.29 272.91 L445.29 272.1 L446.29 271.87 L446.54 274.84 L446.79 272.38 L447.29 271.92 L448.29 272.12 L449.29 272.45 L450.29 271.82 L450.54 270.05 L450.79 272.34 L451.3 272.59 L452.3 272.2 L453.3 272.2 L454.3 272.32" fill="none" stroke="#0a2ac4" stroke-width="3.4" stroke-linejoin="round" stroke-linecap="butt" />
<text x="408.12" y="300.6" font-size="18.2" fill="#0a2ac4" >+ Lqh 7-1</text>
<path d="M408.9 324.1 L408.9 355.3 L446.8 355.3" fill="none" stroke="#000" stroke-width="2.7" stroke-linejoin="round" stroke-linecap="butt" stroke-linejoin="miter"/>
<text transform="translate(393.9 359.85) rotate(-90)" x="0" y="0" font-size="15.7" fill="#000">100pA</text>
<text x="400.76" y="374.2" font-size="16.0" fill="#000" >100ms</text>
<text transform="translate(492 217) scale(1.1 1)" font-size="20" fill="#000" >d</text>
<text x="518.27" y="269.1" font-size="18.4" fill="#000" >-80</text>
<path d="M553 261.9 L580.6 261.9 L580.6 243.3 L674.5 243.3 L674.5 261.9 L744.9 261.9" fill="none" stroke="#000" stroke-width="2.5" stroke-linejoin="round" stroke-linecap="butt" stroke-linejoin="miter"/>
<path d="M749.1 261.9 L777.3 261.9 L777.3 243.3 L870.8 243.3 L870.8 262 L941.1 262" fill="none" stroke="#000" stroke-width="2.5" stroke-linejoin="round" stroke-linecap="butt" stroke-linejoin="miter"/>
<text x="606.99" y="232.7" font-size="18.7" fill="#000" >0mV</text>
<text x="804.52" y="233.1" font-size="18.4" fill="#000" >0mV</text>
<path d="M550.3 366.24 L551.32 365.9 L552.35 365.87 L553.37 365.7 L553.62 367.55 L553.87 365.83 L554.39 365.52 L555.42 365.5 L556.44 365.55 L556.69 364.37 L556.94 365.76 L557.46 365.51 L558.49 365.8 L559.51 365.33 L559.76 364.13 L560.01 365.69 L560.53 365.53 L561.56 365.92 L562.58 365.98 L562.83 364.24 L563.08 365.62 L563.6 365.9 L564.63 365.45 L565.65 365.74 L565.9 362.7 L566.15 365.55 L566.67 365.88 L567.7 366.05 L568.72 365.16 L569.74 365.51 L569.99 368.1 L570.24 365.46 L570.77 365 L571.79 365.56 L572.81 364.91 L573.06 366.6 L573.31 365.39 L573.84 365.34 L574.86 364.88 L575.88 365.29 L576.13 367.18 L576.38 365.32 L576.91 365.73 L577.93 365.74 L578.95 364.94 L579.98 364.65 L580.23 363.82 L580.48 365.22 L581 364.92 L582.4 354.7 L584.5 320 L585.6 296 L585.6 296.3 L586.65 293.08 L587.7 289.95 L589.05 289.62 L589.3 292.83 L589.55 290 L590.4 290.82 L591.45 294.17 L592.5 298.56 L592.75 300.09 L593 298.7 L594.4 306.12 L595.7 301.97 L595.95 300.28 L596.2 302.05 L597 298.44 L598.35 303.93 L599.7 309.6 L599.95 311.49 L600.2 309.4 L601.05 307.52 L602.4 304.66 L602.65 303.86 L602.9 305.4 L603.7 309.7 L605 315 L606.35 315.51 L606.6 314.81 L606.85 316.05 L607.7 317.97 L609.05 313.6 L610.4 310.28 L610.65 308.34 L610.9 310.7 L611.57 308.35 L612.73 307.4 L612.98 309.17 L613.23 307.17 L613.9 305.62 L615.02 307.49 L615.27 305.9 L615.52 307.4 L616.15 309.98 L617.27 311.7 L618.4 314.19 L619.4 314.18 L619.65 312.64 L619.9 314.05 L620.4 314.73 L621.4 315.25 L622.4 316.79 L622.65 317.41 L622.9 316 L623.46 314.14 L624.52 314.12 L625.58 312.52 L626.64 312.13 L626.89 313.91 L627.14 311.76 L627.7 309.99 L628.76 312.03 L629.82 312.21 L630.07 311.02 L630.32 312.82 L630.88 314.28 L631.94 314.29 L632.19 313.59 L632.44 314.94 L633 315.68 L634.23 316.95 L635.45 318.59 L635.7 317.24 L635.95 319.35 L636.67 320.26 L637.9 322.97 L638.15 324.14 L638.4 322.7 L639.02 319.78 L640.15 317.69 L641.27 315.55 L641.52 314.17 L641.77 315.72 L642.4 313.08 L643.46 314.29 L643.71 316.57 L643.96 314.2 L644.52 314.21 L645.58 315.3 L646.64 316.81 L646.89 313.88 L647.14 316.6 L647.7 317.07 L648.73 315.18 L649.75 313.08 L650.77 311.68 L651.02 309.7 L651.27 311.4 L651.8 309.2 L653.6 302.15 L654.7 305.88 L654.95 308.08 L655.2 306.05 L655.8 310.82 L656.9 311.12 L657.15 314.04 L657.4 311.58 L658 313.14 L659.1 313.43 L660.2 314.98 L660.45 315.76 L660.7 314.23 L661.3 315.67 L662.4 315.36 L663.48 317.85 L663.73 314.53 L663.98 317.08 L664.56 318.01 L665.64 319.4 L666.72 320.45 L666.97 318.61 L667.22 320.32 L667.8 321.65 L669.1 320.01 L669.35 316.66 L669.6 319.4 L670.4 317.01 L672.3 307.18 L672.55 308.07 L672.8 306.7 L673.35 312.41 L674.4 319.14 L675.8 321.07 L676.3 340 L676.8 373.4 L678.4 373 L678.4 372.23 L679.47 371.7 L680.53 371.04 L680.78 368.44 L681.03 371.07 L681.6 370.61 L682.6 370.51 L683.61 370.08 L684.61 369.7 L684.86 368.05 L685.11 370.3 L685.62 370.55 L686.62 369.78 L686.87 368.82 L687.12 370.1 L687.63 370.29 L688.63 370.35 L689.63 369.94 L690.64 369.14 L690.89 367.6 L691.14 369.7 L691.64 370.14 L692.65 369.34 L692.9 366.83 L693.15 369.5 L693.65 369.91 L694.66 369.24 L695.66 369.26 L695.91 367.13 L696.16 369.2 L696.67 368.54 L697.67 369.44 L698.67 368.58 L698.92 370.48 L699.17 368.9 L699.68 369.27 L700.68 369.01 L701.69 368.92 L702.69 368.6 L702.94 369.92 L703.19 368.5 L703.7 368.79 L704.7 367.94 L705.71 368.77 L705.96 370.19 L706.21 368.26 L706.72 368.16 L707.72 368.04 L708.73 368.72 L708.98 366.88 L709.23 368.13 L709.74 368.35 L710.75 368.64 L711 365.96 L711.25 368.05 L711.75 368.3 L712.76 367.63 L713.77 368.05 L714.02 370.24 L714.27 367.92 L714.78 367.48 L715.78 367.65 L716.79 368.3 L717.04 365.51 L717.29 367.79 L717.8 367.27 L718.81 367.18 L719.81 368.04 L720.06 369.54 L720.31 367.66 L720.82 367.83 L721.83 368.06 L722.84 368.08 L723.09 364.55 L723.34 367.54 L723.84 367.6 L724.85 367.91 L725.86 367.4 L726.87 367.22 L727.12 364.59 L727.37 367.37 L727.87 366.81 L728.88 367.65 L729.89 367.57 L730.14 364.53 L730.39 367.24 L730.89 366.9 L731.9 366.9 L732.15 365.65 L732.4 367.15 L732.91 366.92 L733.92 367.55 L734.17 369.61 L734.42 367.07 L734.92 366.73 L735.93 367.53 L736.94 366.97 L737.19 368.19 L737.44 366.94 L737.95 367.3 L738.96 367.21 L739.96 367.27 L740.21 368.78 L740.46 366.81 L740.97 367.19 L741.98 366.5 L742.99 366.73 L743.24 364.1 L743.49 366.69 L743.99 366.86 L745 367.14" fill="none" stroke="#000" stroke-width="3.2" stroke-linejoin="round" stroke-linecap="butt" />
<path d="M749.3 364.47 L750.31 364.33 L751.33 365.5 L752.34 364.52 L753.36 364.44 L753.61 366.72 L753.86 364.9 L754.37 364.58 L755.38 365.45 L756.4 364.68 L757.41 365.02 L757.66 367.33 L757.91 364.9 L758.42 365.15 L759.44 364.36 L760.45 365.36 L761.47 365.01 L761.72 363.36 L761.97 364.9 L762.48 365 L763.49 365.43 L764.51 365.23 L765.52 365.45 L765.77 367.36 L766.02 364.9 L766.53 364.61 L767.55 365.45 L768.56 364.67 L768.81 367.82 L769.06 364.9 L769.58 364.47 L770.59 365.29 L771.6 365.1 L771.85 363.61 L772.1 364.9 L772.62 364.34 L773.63 365.41 L774.64 364.91 L774.89 366.84 L775.14 364.9 L775.66 365.4 L776.67 364.67 L777.69 364.75 L777.94 366.64 L778.19 364.9 L778.7 364.95 L780 360 L781.5 339.8 L782.9 321.4 L782.9 322.12 L784.2 318.73 L786.1 314.23 L787.4 318.95 L787.65 316.65 L787.9 318.8 L788.1 302.61 L789.1 303.66 L790.1 303.95 L790.35 303.16 L790.6 304.4 L791.4 300.84 L793.3 306.87 L793.55 309.52 L793.8 307 L794.65 304.64 L796 304.15 L796.25 306.08 L796.5 303.7 L797.3 305.35 L798.6 305.28 L799.9 306.82 L800.15 304.17 L800.4 306.4 L800.94 306.36 L801.98 306.26 L803.02 307.14 L803.27 309.44 L803.52 307.18 L804.06 307.67 L805.1 307.19 L806.1 309.14 L806.35 306.98 L806.6 309.65 L807.1 310.98 L809 316.16 L809.25 315.1 L809.5 316.8 L810.35 312.76 L811.7 307.43 L813 310.74 L813.25 309.2 L813.5 310.95 L814.3 314.28 L815.6 313.61 L816.9 313.17 L817.15 316.27 L817.4 313.8 L818.2 313.18 L819.3 313.99 L820.4 314.9 L820.65 317.14 L820.9 314.23 L821.5 315.31 L822.6 314.16 L822.85 313.62 L823.1 314.87 L823.7 315.48 L824.8 316.26 L826.1 315.35 L826.35 317.04 L826.6 314.87 L827.4 314.63 L828.7 313.35 L830 315.86 L830.25 313.55 L830.5 315.1 L831.3 316.55 L832.6 317.61 L832.85 321.01 L833.1 318.1 L833.9 315.87 L835.2 314.95 L835.45 312.72 L835.7 314.9 L836.26 316.06 L837.32 317.89 L838.38 320.22 L839.44 321.05 L839.69 318.33 L839.94 321.14 L840.5 323.33 L841.8 320.4 L843.1 317.36 L843.35 320.19 L843.6 317.5 L844.28 316.42 L845.46 315.85 L846.64 315.38 L846.89 317.72 L847.14 315.52 L847.82 315.38 L849 313.57 L850.07 316.38 L850.32 313.96 L850.57 316.17 L851.13 317.73 L852.2 320.82 L853.35 318.45 L853.6 321.3 L853.85 319.12 L854.5 318.25 L855.65 317.13 L855.9 314.68 L856.15 317.18 L856.8 316 L857.86 318.88 L858.11 315.66 L858.36 318.42 L858.92 320.93 L859.98 322.34 L861.04 325 L861.29 323.73 L861.54 325.08 L862.1 327.27 L863.17 325 L864.23 322.16 L864.48 324.25 L864.73 322.1 L865.3 320.14 L866.4 318.84 L867.5 320.1 L867.75 321.6 L868 319.5 L868.6 319.78 L869.9 320.53 L871.2 320.9 L871.45 319.4 L871.7 321.23 L872.5 322.84 L873.2 339.8 L874 369.4 L876 367 L876 366.91 L877.01 366.09 L878.01 367.05 L879.02 366.06 L879.27 367.79 L879.52 366.43 L880.02 365.98 L881.03 366.62 L882.04 366.62 L883.04 366.65 L883.29 363.57 L883.54 366.33 L884.05 365.84 L885.06 366.3 L886.06 366.8 L887.07 366.52 L887.32 364.48 L887.57 366.23 L888.07 365.71 L889.08 366.49 L890.09 366.57 L891.09 365.72 L891.34 364.38 L891.59 366.13 L892.1 365.95 L893.1 366.55 L894.11 366.57 L894.36 363.25 L894.61 366.06 L895.12 365.55 L896.12 366.21 L896.37 368.68 L896.62 366.01 L897.13 366.41 L898.14 365.68 L899.14 366.23 L900.15 366.42 L900.4 363.82 L900.65 365.91 L901.15 365.46 L902.16 365.84 L903.17 366.04 L903.42 367.27 L903.67 365.84 L904.17 366.41 L905.18 366.1 L906.18 365.8 L906.43 363.43 L906.68 365.76 L907.19 365.91 L908.2 365.89 L909.2 365.56 L909.45 367.61 L909.7 365.69 L910.21 366.06 L911.22 365.34 L912.22 365.24 L912.47 367.6 L912.72 365.61 L913.23 365.29 L914.23 365.41 L915.24 365.01 L916.25 365.46 L916.5 363.51 L916.75 365.52 L917.25 364.94 L918.26 366.05 L919.26 365.7 L920.27 365.79 L920.52 367.65 L920.77 365.42 L921.28 365.27 L922.28 365.03 L923.29 365.11 L923.54 363.54 L923.79 365.34 L924.3 365.68 L925.3 365.46 L926.31 364.69 L927.31 364.96 L927.56 367.69 L927.81 365.24 L928.32 365.38 L929.33 365.68 L930.33 364.89 L930.58 362.6 L930.83 365.17 L931.34 365.41 L932.34 365 L933.35 364.52 L933.6 363.77 L933.85 365.1 L934.36 365.49 L935.36 365.08 L936.37 365.5 L937.38 364.65 L937.63 363.48 L937.88 365 L938.38 365.36 L939.39 364.41 L939.64 367.15 L939.89 364.95 L940.39 364.38 L941.4 365.39" fill="none" stroke="#0a2ac4" stroke-width="3.2" stroke-linejoin="round" stroke-linecap="butt" />
<text x="814.9" y="288.6" font-size="18.3" fill="#0a2ac4" >+ Lqh 7-1</text>
<path d="M965.9 313.1 L965.9 343.6 L1004.9 343.6" fill="none" stroke="#000" stroke-width="2.7" stroke-linejoin="round" stroke-linecap="butt" stroke-linejoin="miter"/>
<text transform="translate(953.4 351.15) rotate(-90)" x="0" y="0" font-size="15.9" fill="#000">100pA</text>
<text x="957.38" y="362.8" font-size="16.2" fill="#000" >200ms</text>
</g>
</svg>
</body></html>
